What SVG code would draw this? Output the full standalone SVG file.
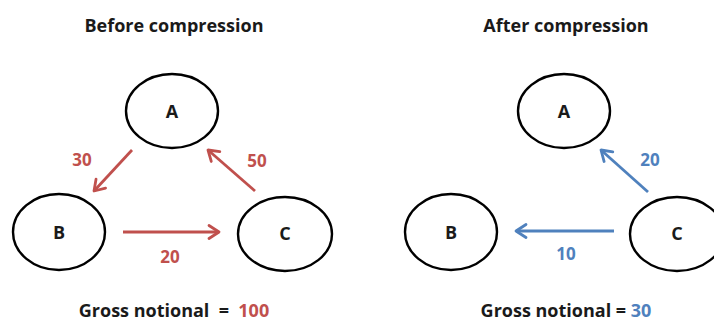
<svg xmlns="http://www.w3.org/2000/svg" width="714" height="322" viewBox="0 0 714 322">
<style>
.node{fill:none;stroke:#000;stroke-width:2.4}
.lbl{font-family:"Open Sans","Liberation Sans",sans-serif;font-weight:bold;font-size:18px;fill:#1a1a1a;text-anchor:middle}
.red{fill:#c0504d}
.blue{fill:#4f81bd}
.num{font-family:"Open Sans","Liberation Sans",sans-serif;font-weight:bold;font-size:17px;text-anchor:middle}
.ar{fill:none;stroke:#c0504d;stroke-width:2.8}
.ab{fill:none;stroke:#4f81bd;stroke-width:2.8}
</style>
<defs>
<marker id="mr" markerUnits="userSpaceOnUse" viewBox="-14 -9 16 18" markerWidth="16" markerHeight="18" refX="0" refY="0" orient="auto" overflow="visible">
<path d="M-10,-6.5 L0,0 L-10,6.5" fill="none" stroke="#c0504d" stroke-width="2.8" stroke-linejoin="round" stroke-linecap="round"/>
</marker>
<marker id="mb" markerUnits="userSpaceOnUse" viewBox="-14 -9 16 18" markerWidth="16" markerHeight="18" refX="0" refY="0" orient="auto" overflow="visible">
<path d="M-10,-6.5 L0,0 L-10,6.5" fill="none" stroke="#4f81bd" stroke-width="2.8" stroke-linejoin="round" stroke-linecap="round"/>
</marker>
</defs>

<text class="lbl" x="174" y="32">Before compression</text>
<text class="lbl" x="566" y="32">After compression</text>

<g id="before-A"><ellipse class="node" cx="172" cy="111" rx="46" ry="37"/><text class="lbl" x="172" y="118">A</text></g>
<g id="before-B"><ellipse class="node" cx="59" cy="232" rx="46" ry="38"/><text class="lbl" x="59" y="239">B</text></g>
<g id="before-C"><ellipse class="node" cx="285" cy="234" rx="47" ry="37"/><text class="lbl" x="285" y="240">C</text></g>

<g id="after-A"><ellipse class="node" cx="564" cy="111" rx="46" ry="37"/><text class="lbl" x="564" y="118">A</text></g>
<g id="after-B"><ellipse class="node" cx="451" cy="232" rx="46" ry="38"/><text class="lbl" x="451" y="239">B</text></g>
<g id="after-C"><ellipse class="node" cx="677" cy="234" rx="47" ry="37"/><text class="lbl" x="677" y="240">C</text></g>

<g id="connectors">
<line class="ar" x1="132" y1="150" x2="94" y2="191" marker-end="url(#mr)"/>
<line class="ar" x1="255" y1="191" x2="208" y2="150" marker-end="url(#mr)"/>
<line class="ar" x1="123" y1="232" x2="219" y2="232" marker-end="url(#mr)"/>
<line class="ab" x1="648" y1="192" x2="601" y2="150" marker-end="url(#mb)"/>
<line class="ab" x1="614" y1="231" x2="516" y2="231" marker-end="url(#mb)"/>
</g>

<text class="num red" x="82" y="166">30</text>
<text class="num red" x="257" y="167">50</text>
<text class="num red" x="170" y="263">20</text>
<text class="num blue" x="650" y="166">20</text>
<text class="num blue" x="566" y="260">10</text>

<text class="lbl" x="174" y="317" xml:space="preserve">Gross notional  =  <tspan class="red">100</tspan></text>
<text class="lbl" x="566" y="317">Gross notional = <tspan class="blue">30</tspan></text>
</svg>
